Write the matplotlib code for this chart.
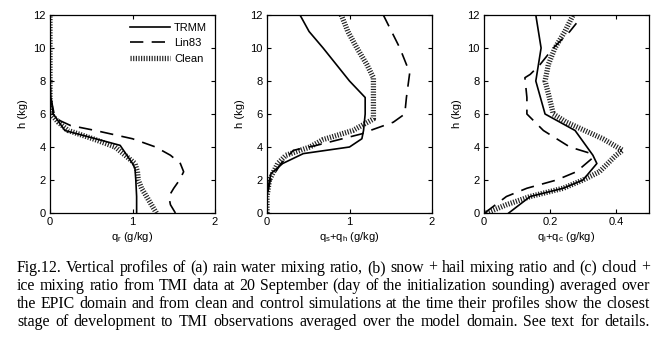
"""
Fig. 12 — vertical profiles of hydrometeor mixing ratios (TRMM vs Lin83 vs Clean).
"""
import matplotlib
matplotlib.use("Agg")
import matplotlib.pyplot as plt

plt.rcParams["font.family"] = ["Liberation Sans", "DejaVu Sans"]
plt.rcParams["mathtext.fontset"] = "custom"
plt.rcParams["mathtext.rm"] = "Liberation Sans"

# ── (a) rain water ──────────────────────────────────────────────────────────
h_a_trmm = [0, 1, 2, 2.7, 3, 4.1, 5, 6, 7, 8, 12]
qr_trmm = [1.05, 1.05, 1.04, 1.03, 1.0, 0.85, 0.18, 0.04, 0.01, 0.0, 0.0]
h_a_lin = [0, 0.5, 1, 1.5, 2, 2.5, 3, 3.5, 4, 4.5, 5, 5.3, 5.6, 6, 7, 8, 12]
qr_lin = [1.52, 1.46, 1.44, 1.50, 1.57, 1.62, 1.58, 1.46, 1.28, 1.0, 0.55, 0.25, 0.12,
          0.05, 0.01, 0.0, 0.0]
h_a_clean = [0, 0.5, 1, 1.5, 2, 2.5, 3, 4, 4.5, 5, 5.5, 6, 7, 12]
qr_clean = [1.29, 1.23, 1.17, 1.11, 1.07, 1.06, 1.03, 0.79, 0.52, 0.22, 0.1, 0.01, 0.0, 0.0]

# ── (b) snow + hail ─────────────────────────────────────────────────────────
h_b_trmm = [0, 1, 2, 2.4, 3.0, 3.6, 4, 4.5, 5, 6, 7, 8, 9, 10, 11, 12]
qsh_trmm = [0.0, 0.0, 0.03, 0.05, 0.19, 0.44, 1.0, 1.15, 1.17, 1.19, 1.19, 1.0, 0.84,
            0.68, 0.51, 0.40]
h_b_lin = [0, 1, 2, 3, 3.8, 4.1, 4.8, 5.0, 5.5, 6, 7, 8.5, 9, 10, 11, 12]
qsh_lin = [0.0, 0.0, 0.04, 0.17, 0.32, 0.6, 1.15, 1.25, 1.53, 1.67, 1.69, 1.73, 1.69,
           1.61, 1.51, 1.41]
h_b_clean = [0, 1, 2, 3, 3.5, 4, 4.45, 5, 5.7, 6, 7, 8.2, 9, 10, 11, 12]
qsh_clean = [0.0, 0.0, 0.03, 0.13, 0.23, 0.52, 0.68, 1.04, 1.29, 1.29, 1.29, 1.29, 1.21,
             1.09, 0.98, 0.90]

# ── (c) cloud + ice ─────────────────────────────────────────────────────────
h_c_trmm = [0, 1, 1.5, 2, 3, 3.5, 5, 6, 8, 9, 10, 12]
qic_trmm = [0.075, 0.14, 0.24, 0.30, 0.342, 0.33, 0.276, 0.185, 0.157, 0.165, 0.173, 0.157]
h_c_lin = [0, 1, 1.5, 2, 2.5, 3.3, 3.6, 4, 5, 6, 7, 8.2, 8.4, 9, 10, 11, 11.5]
qic_lin = [0.002, 0.068, 0.13, 0.22, 0.28, 0.327, 0.325, 0.26, 0.18, 0.13, 0.13, 0.124,
           0.14, 0.17, 0.21, 0.26, 0.28]
h_c_clean = [0, 0.5, 1, 1.5, 2, 2.5, 3.5, 3.8, 4.5, 5.5, 6, 7, 8, 9, 10, 11, 12]
qic_clean = [0.007, 0.068, 0.14, 0.24, 0.30, 0.35, 0.40, 0.42, 0.36, 0.25, 0.21, 0.198,
             0.185, 0.195, 0.215, 0.245, 0.27]

XLABELS = [r"q$_\mathregular{r}$ (g/kg)",
           r"q$_\mathregular{s}$+q$_\mathregular{h}$ (g/kg)",
           r"q$_\mathregular{i}$+q$_\mathregular{c}$ (g/kg)"]
XLIMS = [(0, 2), (0, 2), (0, 0.5)]
XTICKS = [[0, 1, 2], [0, 1, 2], [0, 0.2, 0.4]]
XTICKLABELS = [["0", "1", "2"], ["0", "1", "2"], ["0", "0.2", "0.4"]]
YTICKS = [0, 2, 4, 6, 8, 10, 12]

CAPTION = [
    "Fig.12. Vertical profiles of (a) rain water mixing ratio, (b) snow + hail mixing ratio and (c) cloud +",
    "ice mixing ratio from TMI data at 20 September (day of the initialization sounding) averaged over",
    "the EPIC domain and from clean and control simulations at the time their profiles show the closest",
    "stage of development to TMI observations averaged over the model domain. See text for details.",
]

panels = [
    (h_a_trmm, qr_trmm, h_a_lin, qr_lin, h_a_clean, qr_clean),
    (h_b_trmm, qsh_trmm, h_b_lin, qsh_lin, h_b_clean, qsh_clean),
    (h_c_trmm, qic_trmm, h_c_lin, qic_lin, h_c_clean, qic_clean),
]

W, H = 660, 341
fig = plt.figure(figsize=(6.6, 3.41), dpi=100)
lefts = [50 / W, 267 / W, 484 / W]

for i, (ht, xt, hl, xl, hc, xc) in enumerate(panels):
    ax = fig.add_axes([lefts[i], 1 - 213 / H, 165 / W, 198 / H])
    ax.plot(xc, hc, color="#222222", lw=3.8, ls=(0, (0.22, 0.28)),
            dash_capstyle="butt", label="Clean", zorder=2)
    ax.plot(xl, hl, color="black", lw=1.2, ls=(0, (8, 5)), label="Lin83", zorder=3)
    ax.plot(xt, ht, color="black", lw=1.2, label="TRMM", zorder=4)
    ax.set_xlim(*XLIMS[i])
    ax.set_ylim(0, 12)
    ax.set_xticks(XTICKS[i], XTICKLABELS[i])
    ax.set_yticks(YTICKS)
    ax.tick_params(direction="in", top=True, right=True, labelsize=8,
                   length=3, width=0.8, pad=3)
    for s in ax.spines.values():
        s.set_linewidth(0.9)
    ax.set_ylabel("h (kg)", fontsize=8, labelpad=4)
    ax.set_xlabel(XLABELS[i], fontsize=8, labelpad=2)
    if i == 0:
        hnd, lab = ax.get_legend_handles_labels()
        ax.legend(hnd[::-1], lab[::-1], loc="upper right", frameon=False,
                  fontsize=8, handlelength=3.6, handletextpad=0.4,
                  labelspacing=0.5, borderaxespad=0.3)

# caption: justified lines, words placed one by one
renderer = fig.canvas.get_renderer()
x0, x1 = 17, 650
for k, line in enumerate(CAPTION):
    y = 1 - (272 + 18 * k) / H
    words = line.split(" ")
    texts = [fig.text(0, y, w, family="Liberation Serif", fontsize=11.4,
                      va="baseline", ha="left") for w in words]
    widths = [t.get_window_extent(renderer).width for t in texts]
    gap = (x1 - x0 - sum(widths)) / (len(words) - 1)
    x = x0
    for t, wd in zip(texts, widths):
        t.set_x(x / W)
        x += wd + gap

fig.savefig("out.png", dpi=100)
